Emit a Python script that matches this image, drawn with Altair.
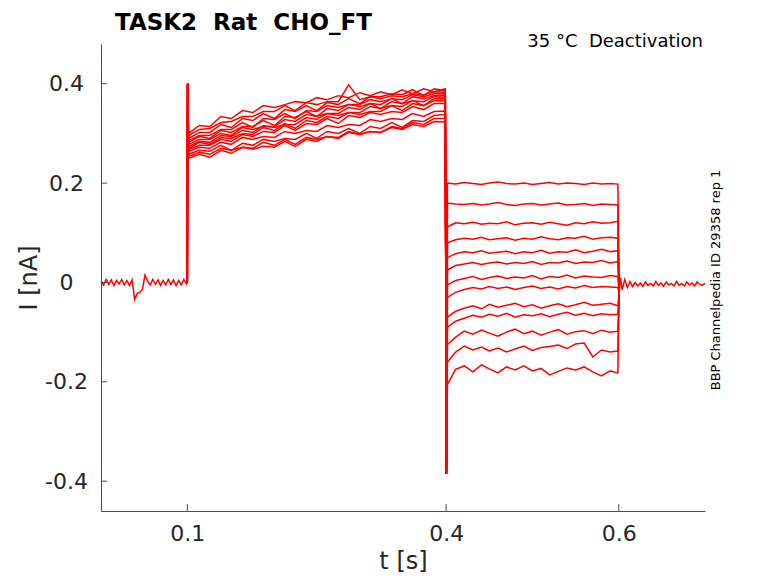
import altair as alt
import pandas as pd

# currents are in pA, times in s
PRE_T = [0.000, 0.003, 0.006, 0.009, 0.012, 0.015, 0.018, 0.021, 0.024, 0.027, 0.030, 0.033, 0.036,
         0.039, 0.042, 0.045, 0.048, 0.051, 0.054,
         0.057, 0.060, 0.063, 0.066, 0.069, 0.072, 0.075, 0.078, 0.081, 0.084, 0.087, 0.090, 0.093,
         0.096, 0.099, 0.100]
PRE_I = [2, -5, 6, -4, 5, -6, 4, -3, 6, -5, 4, -6, 5,
         -34, -22, -20, -14, 15, 3,
         -5, 6, -4, 5, -6, 4, -5, 6, -4, 5, -6, 4, -5, 6, -3, 0]

STEP_T = [0.1015, 0.114, 0.126, 0.139, 0.151, 0.164, 0.176, 0.188, 0.201, 0.213, 0.225, 0.238, 0.250,
          0.262, 0.275, 0.287, 0.300, 0.312, 0.324, 0.337, 0.349, 0.361, 0.374, 0.386, 0.399]
TAIL_T = [0.4015, 0.411, 0.421, 0.431, 0.441, 0.450, 0.460, 0.470, 0.480, 0.490, 0.500, 0.510, 0.520,
          0.530, 0.540, 0.550, 0.560, 0.570, 0.580, 0.590, 0.599]
POST_T = [0.6005, 0.602, 0.604, 0.607, 0.610, 0.613, 0.616, 0.619, 0.622, 0.625, 0.628, 0.631, 0.634,
          0.637, 0.640, 0.643, 0.646, 0.649, 0.652, 0.655, 0.658, 0.661, 0.664, 0.667, 0.670, 0.673,
          0.676, 0.679, 0.682, 0.685, 0.688, 0.691, 0.694, 0.697, 0.700]
POST_I = [-22, 10, -15, 6, -10, 2, -8, 0, -7, -1, -8, 1, -6, -2, -7, 2, -6, -1, -8, 1,
          -5, -2, -7, 2, -6, -2, -7, 1, -5, -1, -7, 1, -4, -6, -2]

ON_T = [0.1, 0.1004]
ON_I = [0, 400]
OFF_T = 0.4003
OFF_I = -385

step_01 = [300, 316, 314, 334, 330, 346, 342, 356, 352, 358, 364, 362, 372, 368, 376, 372, 382, 376, 384, 378, 388, 380, 390, 384, 390]
step_02 = [296, 308, 310, 322, 324, 334, 334, 344, 344, 356, 346, 362, 358, 364, 364, 398, 368, 374, 374, 380, 378, 388, 376, 390, 386]
step_03 = [290, 302, 302, 318, 312, 330, 326, 340, 330, 348, 344, 356, 346, 362, 358, 370, 360, 374, 370, 376, 374, 380, 378, 384, 383]
step_04 = [286, 296, 296, 308, 308, 322, 312, 330, 328, 340, 330, 346, 344, 356, 352, 358, 358, 368, 364, 370, 368, 378, 374, 380, 380]
step_05 = [282, 294, 290, 306, 302, 314, 314, 326, 316, 334, 332, 344, 334, 350, 346, 358, 354, 360, 358, 370, 360, 374, 370, 376, 377]
step_06 = [278, 288, 288, 300, 296, 312, 308, 314, 314, 328, 324, 338, 334, 340, 340, 352, 348, 360, 350, 364, 360, 366, 364, 374, 373]
step_07 = [274, 284, 282, 296, 294, 306, 302, 316, 312, 318, 318, 332, 328, 340, 336, 342, 342, 354, 350, 356, 354, 366, 356, 370, 370]
step_08 = [270, 282, 278, 292, 290, 300, 298, 312, 306, 320, 310, 326, 322, 334, 330, 342, 338, 344, 344, 356, 346, 360, 356, 366, 366]
step_09 = [268, 276, 276, 288, 284, 298, 294, 304, 302, 316, 306, 320, 318, 330, 320, 336, 332, 342, 338, 344, 342, 354, 348, 360, 360]
step_10 = [264, 272, 270, 282, 278, 292, 288, 294, 292, 304, 300, 306, 304, 316, 312, 318, 316, 328, 324, 330, 328, 340, 334, 344, 345]
step_11 = [258, 266, 264, 276, 266, 280, 276, 288, 284, 290, 288, 300, 290, 304, 300, 310, 300, 314, 310, 322, 312, 326, 324, 336, 338]
step_12 = [254, 262, 258, 270, 266, 272, 270, 282, 276, 288, 278, 292, 288, 294, 292, 304, 298, 304, 302, 314, 310, 322, 318, 330, 330]
step_13 = [250, 258, 252, 266, 260, 272, 268, 274, 272, 284, 274, 288, 284, 294, 290, 302, 298, 304, 302, 312, 308, 318, 314, 324, 323]

tail_01 = [200, 198, 201, 199, 197, 200, 202, 199, 198, 200, 197, 199, 201, 198, 200, 199, 197, 200, 198, 199, 198]
tail_02 = [160, 158, 157, 159, 156, 158, 161, 157, 155, 158, 159, 156, 158, 160, 156, 157, 159, 155, 158, 157, 156]
tail_03 = [112, 120, 118, 121, 117, 119, 118, 122, 116, 119, 120, 117, 121, 118, 115, 120, 118, 122, 119, 120, 123]
tail_04 = [80, 86, 89, 87, 91, 86, 88, 90, 85, 89, 87, 92, 88, 86, 90, 89, 93, 87, 90, 91, 89]
tail_05 = [50, 58, 62, 60, 64, 59, 61, 63, 58, 62, 60, 65, 59, 62, 61, 66, 60, 63, 67, 62, 64]
tail_06 = [25, 34, 37, 40, 36, 39, 41, 37, 40, 38, 42, 36, 40, 39, 43, 38, 41, 40, 44, 39, 42]
tail_07 = [-5, 4, 8, 12, 6, 10, 13, 8, 11, 9, 14, 7, 12, 10, 15, 9, 13, 11, 10, 14, 12]
tail_08 = [-30, -20, -14, -10, -13, -8, -12, -9, -14, -10, -7, -12, -9, -13, -8, -11, -6, -10, -8, -9, -10]
tail_09 = [-70, -58, -52, -47, -53, -44, -50, -46, -42, -49, -45, -52, -47, -43, -49, -45, -40, -46, -44, -42, -47]
tail_10 = [-90, -78, -72, -66, -70, -64, -68, -62, -70, -65, -67, -63, -69, -64, -60, -66, -62, -67, -63, -65, -64]
tail_11 = [-125, -110, -98, -104, -96, -102, -108, -100, -94, -103, -98, -106, -100, -95, -104, -99, -97, -103, -96, -100, -98]
tail_12 = [-160, -140, -128, -136, -130, -138, -132, -140, -134, -128, -137, -131, -129, -126, -133, -124, -122, -150, -136, -140, -138]
tail_13 = [-205, -175, -168, -180, -166, -174, -182, -170, -176, -168, -178, -173, -186, -179, -172, -176, -170, -180, -188, -178, -182]

STEPS = [step_01, step_02, step_03, step_04, step_05, step_06, step_07,
         step_08, step_09, step_10, step_11, step_12, step_13]
TAILS = [tail_01, tail_02, tail_03, tail_04, tail_05, tail_06, tail_07,
         tail_08, tail_09, tail_10, tail_11, tail_12, tail_13]

X_TICKS = [0.1, 0.4, 0.6]
Y_TICKS = [-0.4, -0.2, 0, 0.2, 0.4]

TITLE = 'TASK2\u00a0\u00a0Rat\u00a0\u00a0CHO_FT'
NOTE = '35 \u00b0C\u00a0\u00a0Deactivation'
SIDE = 'BBP Channelpedia ID 29358 rep 1'

W, H = 604, 467
FONT = 'DejaVu Sans'
INK = '#262626'
AXC = '#4d4d4d'

rows = []


def add(trace, ts, vs):
    # one row per sample, n keeps the drawing order
    for t, v in zip(ts, vs):
        rows.append({'trace': trace, 'n': len(rows), 't': t, 'i': v / 1000.0})


add('pre', PRE_T, PRE_I)
for k, (st, tl) in enumerate(zip(STEPS, TAILS)):
    ts = ON_T + STEP_T + [OFF_T] + TAIL_T + [POST_T[0]]
    vs = ON_I + st + [OFF_I] + tl + [POST_I[0]]
    add('sweep%02d' % k, ts, vs)
add('post', POST_T, POST_I)
df = pd.DataFrame(rows)

xs = alt.Scale(domain=[0, 0.7], nice=False, zero=False)
ys = alt.Scale(domain=[-0.46, 0.48], nice=False, zero=False)

traces = alt.Chart(df).mark_line(color='#ff0000', strokeWidth=1.5).encode(
    x=alt.X('t:Q', scale=xs, axis=alt.Axis(
        values=X_TICKS, title='t [s]', labelExpr="format(datum.value, '.1f')",
        tickSize=0, labelPadding=12, labelFontSize=22, labelFont=FONT, labelColor=INK,
        titleFontSize=24, titleFont=FONT, titleColor=INK, titleFontWeight='normal',
        titleBaseline='alphabetic', titleY=57,
        domainColor=AXC, grid=False)),
    y=alt.Y('i:Q', scale=ys, axis=alt.Axis(
        values=Y_TICKS, title='I [nA]',
        labelExpr="datum.value == 0 ? '0' : (datum.value < 0 ? '-' + format(-datum.value, '.1f') : format(datum.value, '.1f'))",
        tickSize=0, labelPadding=35, labelAlign='center', labelBaseline='middle',
        labelFontSize=22, labelFont=FONT, labelColor=INK,
        titleFontSize=24, titleFont=FONT, titleColor=INK, titleFontWeight='normal',
        titleAngle=270, titleAlign='center', titleBaseline='middle', titleX=-72, titleY=H / 2,
        domainColor=AXC, grid=False)),
    detail='trace:N',
    order='n:Q'
)

# inward tick marks, drawn as rules on the shared scales
xtick = alt.Chart(pd.DataFrame({'t': X_TICKS})).mark_rule(color=AXC).encode(
    x=alt.X('t:Q', scale=xs),
    y=alt.value(H), y2=alt.value(H - 7)
)
ytick = alt.Chart(pd.DataFrame({'i': Y_TICKS})).mark_rule(color=AXC).encode(
    y=alt.Y('i:Q', scale=ys),
    x=alt.value(0), x2=alt.value(6)
)

title = alt.Chart(pd.DataFrame({'s': [TITLE]})).mark_text(
    font=FONT, fontSize=23, fontWeight='bold', color='#000000', align='left', baseline='alphabetic'
).encode(text='s:N', x=alt.value(14), y=alt.value(-14))

note = alt.Chart(pd.DataFrame({'s': [NOTE]})).mark_text(
    font=FONT, fontSize=18, color='#000000', align='right', baseline='alphabetic'
).encode(text='s:N', x=alt.value(602), y=alt.value(3))

side = alt.Chart(pd.DataFrame({'s': [SIDE]})).mark_text(
    font=FONT, fontSize=13, color='#000000', align='center', baseline='middle', angle=270
).encode(text='s:N', x=alt.value(615), y=alt.value(236))

chart = alt.layer(traces, xtick, ytick, title, note, side).properties(
    width=W, height=H,
    padding={'left': 93, 'top': 36, 'right': 65, 'bottom': 64},
    autosize=alt.AutoSizeParams(type='none')
).configure_view(stroke=None)

chart.save('out.html', embed_options={'renderer': 'svg', 'actions': False})
